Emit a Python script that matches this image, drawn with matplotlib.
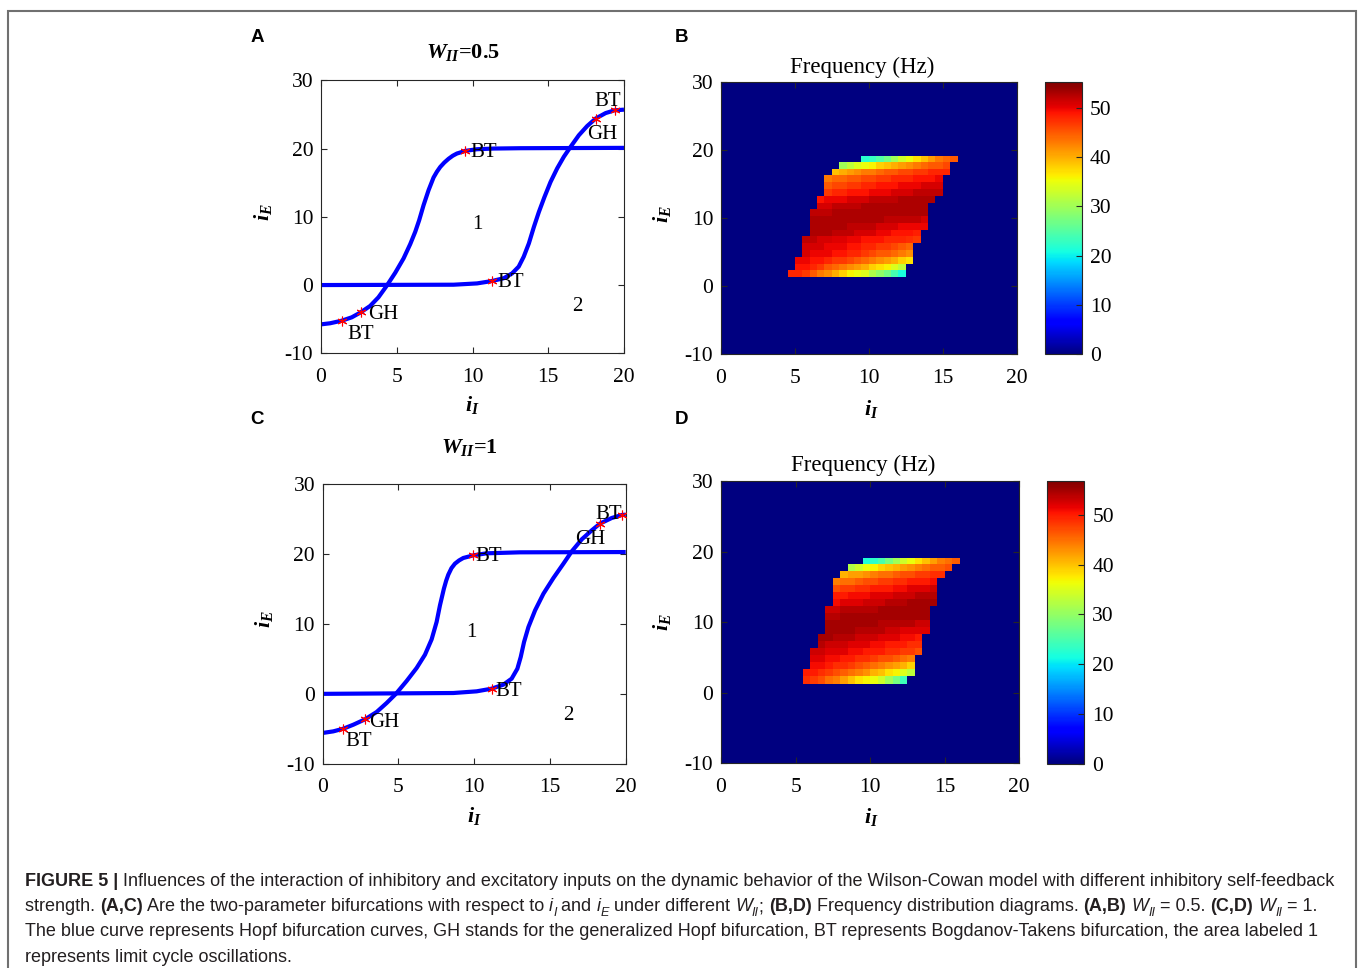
import numpy as np
import matplotlib
matplotlib.use("Agg")
import matplotlib.pyplot as plt
from matplotlib.patches import Rectangle

W, H = 1358, 968

plt.rcParams["font.family"] = "Liberation Serif"
plt.rcParams["axes.unicode_minus"] = False
plt.rcParams["mathtext.fontset"] = "custom"
plt.rcParams["mathtext.rm"] = "Liberation Serif"
plt.rcParams["mathtext.it"] = "Liberation Serif:italic"
plt.rcParams["mathtext.bf"] = "Liberation Serif:bold"
plt.rcParams["mathtext.bfit"] = "Liberation Serif:italic:bold"

# ---- Hopf curves, W_II = 0.5 ----
a_h1_i = [0.0, 0.6, 1.37, 2.03, 2.62, 3.24, 3.79, 4.34, 4.9, 5.45, 5.89, 6.22, 6.48,
          6.77, 7.1, 7.43, 7.65, 7.87, 8.14, 8.42, 8.7, 8.97, 9.53, 10.3, 11.4, 13.16, 20.0]
a_h1_e = [-5.76, -5.6, -5.22, -4.73, -4.0, -3.07, -1.8, -0.1, 1.8, 3.9, 6.0, 7.8, 9.5,
          11.7, 13.9, 15.76, 16.6, 17.3, 17.95, 18.5, 18.95, 19.27, 19.66, 19.9, 20.0, 20.05, 20.1]
a_h2_i = [0.0, 8.75, 10.3, 11.29, 12.06, 12.61, 13.05, 13.38, 13.72, 14.05, 14.38,
          14.75, 15.15, 15.59, 16.03, 16.47, 17.02, 17.57, 18.13, 18.79, 19.38, 20.0]
a_h2_e = [0.0, 0.05, 0.24, 0.59, 1.0, 1.7, 2.7, 4.15, 6.1, 8.5, 10.7,
          12.9, 15.1, 17.1, 18.8, 20.24, 21.95, 23.3, 24.4, 25.2, 25.6, 25.7]
a_pt_i = [1.37, 2.62, 9.53, 11.29, 18.13, 19.38]
a_pt_e = [-5.22, -4.0, 19.66, 0.59, 24.4, 25.6]

# ---- Hopf curves, W_II = 1 ----
c_h1_i = [0.0, 0.7, 1.36, 2.02, 2.79, 3.56, 4.22, 4.84, 5.54, 6.2, 6.75, 7.19, 7.52,
          7.74, 8.0, 8.15, 8.29, 8.5, 8.73, 9.0, 9.28, 9.94, 10.82, 13.0, 20.0]
c_h1_e = [-5.6, -5.37, -4.99, -4.42, -3.65, -2.6, -1.31, 0.02, 1.84, 3.7, 5.6, 7.8, 10.3,
          12.67, 15.06, 16.2, 17.06, 18.0, 18.64, 19.1, 19.45, 19.83, 20.12, 20.26, 20.3]
c_h2_i = [0.0, 8.62, 10.16, 11.15, 11.92, 12.47, 12.85, 13.07, 13.29, 13.58, 14.02,
          14.57, 15.23, 15.89, 16.44, 17.1, 17.76, 18.3, 19.08, 19.74, 20.0]
c_h2_e = [0.0, 0.12, 0.36, 0.74, 1.31, 2.17, 3.6, 5.27, 7.42, 9.57, 11.96,
          14.34, 16.59, 18.64, 20.4, 22.12, 23.41, 24.37, 25.18, 25.6, 25.66]
c_pt_i = [1.36, 2.79, 9.94, 11.15, 18.3, 19.74]
c_pt_e = [-4.99, -3.65, 19.83, 0.74, 24.37, 25.6]

# ---- frequency maps (Hz), cells between these edges ----
i_edges = [4.5, 5.0, 5.5, 6.0, 6.5, 7.0, 7.5, 8.0, 8.5, 9.0, 9.5, 10.0, 10.5, 11.0,
           11.5, 12.0, 12.5, 13.0, 13.5, 14.0, 14.5, 15.0, 15.5, 16.0]
e_edges = [1.3, 2.3, 3.3, 4.3, 5.3, 6.3, 7.3, 8.3, 9.3, 10.3, 11.3, 12.3, 13.3, 14.3,
           15.3, 16.3, 17.3, 18.3, 19.1]

freq_05 = [
    [48, 48, 47, 45, 43, 42, 40, 38, 36, 35, 34, 31, 29, 27, 24, 21, 0, 0, 0, 0, 0, 0, 0],
    [0, 49, 49, 48, 47, 45, 44, 43, 42, 41, 40, 38, 37, 36, 34, 32, 0, 0, 0, 0, 0, 0, 0],
    [0, 50, 50, 49, 49, 48, 47, 47, 46, 45, 44, 43, 42, 41, 40, 38, 37, 0, 0, 0, 0, 0, 0],
    [0, 0, 51, 50, 50, 50, 49, 49, 48, 48, 47, 46, 45, 45, 44, 43, 42, 0, 0, 0, 0, 0, 0],
    [0, 0, 51, 51, 51, 50, 50, 50, 49, 49, 48, 48, 47, 47, 46, 45, 44, 0, 0, 0, 0, 0, 0],
    [0, 0, 52, 52, 51, 51, 50.5, 50.5, 50, 50, 49, 49, 49, 48, 48, 48, 47.5, 47, 0, 0, 0, 0, 0],
    [0, 0, 0, 53, 53, 53, 52, 52, 52, 51, 51, 51, 50, 50, 49, 49, 49, 48.5, 0, 0, 0, 0, 0],
    [0, 0, 0, 53, 53, 53, 53, 53, 52, 52, 52, 52, 51, 51, 51, 50, 50, 50, 50, 0, 0, 0, 0],
    [0, 0, 0, 53, 53, 53, 53, 53, 53, 53, 53, 53, 53, 52, 52, 52, 52, 52, 51, 0, 0, 0, 0],
    [0, 0, 0, 52, 52, 52, 53, 53, 53, 53, 53, 53, 53, 53, 53, 53, 53, 53, 53, 0, 0, 0, 0],
    [0, 0, 0, 0, 51, 51, 52, 52, 52, 52, 53, 53, 53, 53, 53, 53, 53, 53, 53, 0, 0, 0, 0],
    [0, 0, 0, 0, 49, 50, 50, 50, 51, 51, 51, 52, 52, 52, 52, 53, 53, 53, 53, 53, 0, 0, 0],
    [0, 0, 0, 0, 0, 47, 48, 48, 49, 49, 49, 50, 50, 50, 51, 51, 51, 52, 52, 52, 52, 0, 0],
    [0, 0, 0, 0, 0, 45, 46, 46, 47, 47, 48, 48, 49, 49, 49, 50, 50, 50, 51, 51, 51, 0, 0],
    [0, 0, 0, 0, 0, 43, 44, 44, 45, 45, 46, 46, 47, 47, 48, 48, 48, 49, 49, 49, 50, 0, 0],
    [0, 0, 0, 0, 0, 0, 39, 40, 41, 42, 43, 43, 44, 45, 45, 46, 46, 47, 47, 48, 48, 48, 0],
    [0, 0, 0, 0, 0, 0, 0, 30, 32, 34, 35, 36, 38, 39, 40, 41, 42, 43, 44, 45, 45, 46, 0],
    [0, 0, 0, 0, 0, 0, 0, 0, 0, 0, 22, 23, 25, 27, 30, 33, 35, 37, 39, 41, 43, 44, 45],
]

freq_1 = [
    [0, 0, 49, 48, 47, 45, 44, 42, 40, 38, 37, 36, 34, 31, 28, 24, 0, 0, 0, 0, 0, 0, 0],
    [0, 0, 50, 50, 49, 48, 47, 46, 45, 44, 43, 41, 40, 38, 37, 35, 33, 0, 0, 0, 0, 0, 0],
    [0, 0, 0, 51, 51, 50, 49, 49, 48, 47, 46, 45, 44, 43, 42, 41, 39, 0, 0, 0, 0, 0, 0],
    [0, 0, 0, 52, 52, 51, 51, 50, 50, 49, 49, 48, 47, 47, 46, 45, 44, 0, 0, 0, 0, 0, 0],
    [0, 0, 0, 53, 53, 52, 52, 52, 51, 51, 50, 50, 50, 49, 49, 48, 48, 47, 0, 0, 0, 0, 0],
    [0, 0, 0, 0, 54, 53, 53, 53, 52, 52, 52, 51, 51, 50, 50, 50, 49, 49, 0, 0, 0, 0, 0],
    [0, 0, 0, 0, 55, 55, 54, 54, 54, 53, 53, 53, 52, 52, 52, 51, 51, 50, 0, 0, 0, 0, 0],
    [0, 0, 0, 0, 0, 55, 55, 55, 55, 54, 54, 54, 54, 53, 53, 52, 52, 52, 52, 0, 0, 0, 0],
    [0, 0, 0, 0, 0, 55, 55, 55, 55, 55, 55, 55, 54, 54, 54, 54, 54, 53, 53, 0, 0, 0, 0],
    [0, 0, 0, 0, 0, 54, 54, 55, 55, 55, 55, 55, 55, 55, 55, 55, 55, 55, 55, 0, 0, 0, 0],
    [0, 0, 0, 0, 0, 53, 53, 54, 54, 54, 54, 54, 55, 55, 55, 55, 55, 55, 55, 0, 0, 0, 0],
    [0, 0, 0, 0, 0, 0, 51, 52, 52, 52, 53, 53, 53, 54, 54, 54, 55, 55, 55, 55, 0, 0, 0],
    [0, 0, 0, 0, 0, 0, 50, 50, 51, 51, 51, 52, 52, 52, 53, 53, 53, 54, 54, 54, 0, 0, 0],
    [0, 0, 0, 0, 0, 0, 47, 48, 48, 49, 49, 50, 50, 50, 51, 51, 52, 52, 52, 53, 0, 0, 0],
    [0, 0, 0, 0, 0, 0, 44, 45, 45, 46, 47, 47, 48, 48, 49, 49, 50, 50, 50, 51, 0, 0, 0],
    [0, 0, 0, 0, 0, 0, 0, 41, 42, 42, 43, 44, 45, 45, 46, 47, 47, 48, 48, 49, 49, 0, 0],
    [0, 0, 0, 0, 0, 0, 0, 0, 32, 34, 36, 37, 39, 40, 41, 42, 43, 44, 45, 46, 46, 47, 0],
    [0, 0, 0, 0, 0, 0, 0, 0, 0, 0, 22, 23, 25, 28, 31, 34, 36, 38, 40, 42, 44, 45, 46],
]

fig = plt.figure(figsize=(W / 100, H / 100), dpi=100)
INK = "#262626"


def px_axes(x0, y0, x1, y1):
    return fig.add_axes([x0 / W, 1 - y1 / H, (x1 - x0) / W, (y1 - y0) / H])


def ftext(x, y, s, **kw):
    return fig.text(x / W, 1 - y / H, s, **kw)


def frame(ax):
    ax.set_xlim(0, 20)
    ax.set_ylim(-10, 30)
    ax.set_xticks([0, 5, 10, 15, 20])
    ax.set_yticks([-10, 0, 10, 20, 30])
    ax.tick_params(direction="in", top=True, right=True, length=4, width=0.8,
                   color=INK, labelsize=15.5, labelcolor="black")
    ax.tick_params(axis="x", pad=10.5)
    ax.tick_params(axis="y", pad=5.5)
    for sp in ax.spines.values():
        sp.set_color(INK)
        sp.set_linewidth(0.8)


def hopf_panel(ax, h1i, h1e, h2i, h2e, pti, pte, notes):
    frame(ax)
    ax.plot(h1i, h1e, color="blue", lw=3, solid_capstyle="butt", solid_joinstyle="round")
    ax.plot(h2i, h2e, color="blue", lw=3, solid_capstyle="butt", solid_joinstyle="round")
    ax.plot(pti, pte, ls="none", marker=(6, 2, 0), ms=7, mew=0.8, color="red", zorder=4)
    for s, x, y in notes:
        ax.text(x, y, s, fontsize=15, ha="center", va="center_baseline", zorder=5)


def freq_panel(ax, cax, grid, vmax):
    cmap = plt.get_cmap("jet")
    ax.set_facecolor(cmap(0.0))
    mesh = ax.pcolormesh(i_edges, e_edges, np.array(grid, dtype=float), cmap=cmap,
                         vmin=0, vmax=vmax, shading="flat", antialiased=False,
                         linewidth=0, edgecolors="face")
    frame(ax)
    cb = fig.colorbar(mesh, cax=cax, ticks=[0, 10, 20, 30, 40, 50])
    cax.tick_params(direction="in", length=4, width=0.8, color=INK, labelsize=15.5, pad=6)
    cb.outline.set_edgecolor(INK)
    cb.outline.set_linewidth(0.8)


xlab = r"$\mathbfit{i}_{\mathbfit{I}}$"
ylab = r"$\mathbfit{i}_{\mathbfit{E}}$"

# A
ax_a = px_axes(321, 80.3, 624, 353.3)
hopf_panel(ax_a, a_h1_i, a_h1_e, a_h2_i, a_h2_e, a_pt_i, a_pt_e,
           [("BT", 18.94, 27.3), ("GH", 18.57, 22.4), ("BT", 10.74, 19.8),
            ("BT", 12.5, 0.73), ("GH", 4.08, -3.9), ("BT", 2.62, -6.83),
            ("1", 10.3, 9.27), ("2", 16.9, -2.78)])
ftext(462.5, 58.3, r"$\mathbfit{W}_{\mathbfit{II}}$=0.5", fontsize=16, fontweight="bold",
      ha="center", va="baseline")
ftext(472.5, 410.7, xlab, fontsize=16, ha="center", va="baseline")
ftext(263, 212, ylab, fontsize=16, rotation=90, ha="center", va="center")

# C
ax_c = px_axes(322.7, 484.3, 625.7, 763.7)
hopf_panel(ax_c, c_h1_i, c_h1_e, c_h2_i, c_h2_e, c_pt_i, c_pt_e,
           [("BT", 18.9, 26.1), ("GH", 17.69, 22.46), ("BT", 10.94, 20.07),
            ("BT", 12.26, 0.74), ("GH", 4.07, -3.7), ("BT", 2.35, -6.5),
            ("1", 9.83, 9.1), ("2", 16.2, -2.75)])
ftext(469, 453.3, r"$\mathbfit{W}_{\mathbfit{II}}$=1", fontsize=16, fontweight="bold",
      ha="center", va="baseline")
ftext(474, 821.7, xlab, fontsize=16, ha="center", va="baseline")
ftext(264, 619, ylab, fontsize=16, rotation=90, ha="center", va="center")

# B
ax_b = px_axes(721, 82.3, 1016.7, 354)
cax_b = px_axes(1045, 82.3, 1081.7, 354.3)
freq_panel(ax_b, cax_b, freq_05, 55.2)
ftext(861.7, 72.5, "Frequency (Hz)", fontsize=16.5, ha="center", va="baseline")
ftext(871, 415, xlab, fontsize=16, ha="center", va="baseline")
ftext(662, 214, ylab, fontsize=16, rotation=90, ha="center", va="center")

# D
ax_d = px_axes(721, 481, 1019.3, 763.3)
cax_d = px_axes(1047.3, 481, 1084, 763.7)
freq_panel(ax_d, cax_d, freq_1, 56.8)
ftext(863, 471, "Frequency (Hz)", fontsize=16.5, ha="center", va="baseline")
ftext(871.7, 823, xlab, fontsize=16, ha="center", va="baseline")
ftext(662, 622, ylab, fontsize=16, rotation=90, ha="center", va="center")

# panel letters
for s, x, y in [("A", 257, 38), ("B", 681.5, 38), ("C", 257, 420), ("D", 681.5, 420)]:
    ftext(x, y, s, fontsize=13.5, fontweight="bold", family="Liberation Sans",
          ha="center", va="center")

# outer frame
fig.add_artist(Rectangle((8 / W, -0.02), (1355.7 - 8) / W, 1.02 - 11 / H, fill=False,
                         edgecolor="#707070", lw=1.5, transform=fig.transFigure))

# ---- caption, written run by run ----
renderer = fig.canvas.get_renderer()
CAP_FONT = "Liberation Sans"
CAP_INK = "#231f20"


def run_kw(kind, size):
    kw = dict(family=CAP_FONT, color=CAP_INK, fontsize=size, ha="left", va="baseline")
    if kind == "b":
        kw["fontweight"] = "bold"
    if kind in ("i", "s"):
        kw["fontstyle"] = "italic"
    if kind == "s":
        kw["fontsize"] = size * 0.7
    return kw


def run_width(s, kw):
    t = fig.text(0, 0, s + "|", **kw)
    b = fig.text(0, 0, "|", **kw)
    w = t.get_window_extent(renderer).width - b.get_window_extent(renderer).width
    t.remove()
    b.remove()
    return w


def line_width(runs, size):
    return sum(run_width(s, run_kw(k, size)) for s, k in runs)


def caption_line(x, y, runs, size):
    for s, k in runs:
        kw = run_kw(k, size)
        yy = y + (size * 0.28 * 100 / 72 if k == "s" else 0)
        ftext(x, yy, s, **kw)
        x += run_width(s, kw)


line1 = [("FIGURE 5 |", "b"),
         (" Influences of the interaction of inhibitory and excitatory inputs on the dynamic "
          "behavior of the Wilson-Cowan model with different inhibitory self-feedback", "r")]
line2 = [("strength. ", "r"), ("(A,C)", "b"),
         (" Are the two-parameter bifurcations with respect to ", "r"),
         ("i", "i"), ("I", "s"), (" and ", "r"), ("i", "i"), ("E", "s"),
         (" under different ", "r"), ("W", "i"), ("II", "s"), ("; ", "r"), ("(B,D)", "b"),
         (" Frequency distribution diagrams. ", "r"), ("(A,B)", "b"), (" ", "r"),
         ("W", "i"), ("II", "s"), (" = 0.5. ", "r"), ("(C,D)", "b"), (" ", "r"),
         ("W", "i"), ("II", "s"), (" = 1.", "r")]
line3 = [("The blue curve represents Hopf bifurcation curves, GH stands for the generalized "
          "Hopf bifurcation, BT represents Bogdanov-Takens bifurcation, the area labeled 1", "r")]
line4 = [("represents limit cycle oscillations.", "r")]

cap_size = 12 * 1315 / line_width(line1, 12)
for runs, yb in [(line1, 886), (line2, 911), (line3, 936.5), (line4, 962)]:
    caption_line(25, yb, runs, cap_size)

fig.savefig("out.png", dpi=100)
